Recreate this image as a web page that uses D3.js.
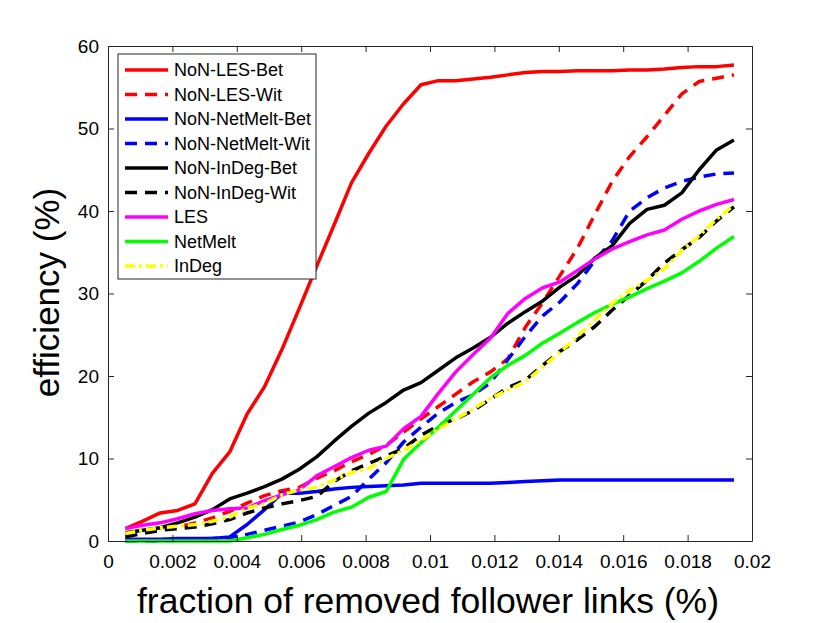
<!DOCTYPE html>
<html>
<head>
<meta charset="utf-8">
<script src="https://cdn.jsdelivr.net/npm/d3@7"></script>
<style>
  body { margin: 0; background: #fff; }
  text { font-family: "Liberation Sans", Arial, sans-serif; fill: #000; }
</style>
</head>
<body>
<svg id="svg"></svg>
<script>
// fraction of removed follower links (x positions of the samples)
var fractions = [0.00054, 0.00108, 0.00162, 0.00216, 0.0027, 0.00324, 0.00378, 0.00432, 0.00486,
  0.0054, 0.00594, 0.00648, 0.00702, 0.00756, 0.0081, 0.00864, 0.00918, 0.00972,
  0.01026, 0.0108, 0.01134, 0.01188, 0.01242, 0.01296, 0.0135, 0.01404, 0.01458,
  0.01512, 0.01566, 0.0162, 0.01674, 0.01728, 0.01782, 0.01836, 0.0189, 0.01944];

var nonLesBet = [1.5, 2.4, 3.4, 3.7, 4.5, 8.2, 10.8, 15.4, 18.7, 23.2, 28.2, 33.3, 38.3, 43.4, 47.0, 50.3, 53.0, 55.3,
  55.8, 55.8, 56.0, 56.2, 56.5, 56.8, 56.9, 56.9, 57.0, 57.0, 57.0, 57.1, 57.1, 57.2, 57.4, 57.5, 57.5, 57.7];
var nonLesWit = [0.6, 1.0, 1.4, 1.7, 2.2, 2.8, 3.6, 4.6, 5.5, 6.1, 6.5, 7.6, 8.5, 9.6, 10.5, 11.6, 13.2, 14.8,
  16.3, 17.8, 19.3, 20.5, 22.1, 25.9, 28.9, 32.2, 35.5, 39.6, 43.6, 46.6, 49.0, 51.6, 54.2, 55.7, 56.1, 56.5];
var nonNetMeltBet = [0.2, 0.2, 0.2, 0.3, 0.3, 0.3, 0.5, 2.0, 3.8, 5.8, 5.8, 6.0, 6.3, 6.5, 6.6, 6.7, 6.8, 7.0,
  7.0, 7.0, 7.0, 7.0, 7.1, 7.2, 7.3, 7.4, 7.4, 7.4, 7.4, 7.4, 7.4, 7.4, 7.4, 7.4, 7.4, 7.4];
var nonNetMeltWit = [0.0, 0.0, 0.0, 0.1, 0.2, 0.3, 0.4, 0.8, 1.3, 1.8, 2.3, 3.2, 4.3, 5.4, 7.5, 9.5, 12.0, 13.8,
  15.5, 16.8, 17.7, 19.2, 22.0, 24.8, 27.3, 29.0, 31.2, 34.0, 36.4, 40.0, 41.6, 42.8, 43.6, 44.1, 44.5, 44.6];
var nonInDegBet = [1.0, 1.3, 1.6, 2.2, 2.9, 3.8, 5.1, 5.8, 6.6, 7.5, 8.7, 10.2, 12.1, 13.9, 15.5, 16.8, 18.3, 19.2,
  20.7, 22.2, 23.4, 24.7, 26.4, 27.8, 29.1, 30.8, 32.2, 34.3, 35.8, 38.5, 40.2, 40.7, 42.2, 45.0, 47.4, 48.6];
var nonInDegWit = [0.5, 0.9, 1.3, 1.5, 1.7, 2.1, 2.6, 3.4, 4.0, 4.5, 4.9, 5.4, 7.2, 8.5, 9.4, 10.3, 11.2, 12.8,
  14.0, 14.8, 15.8, 17.2, 18.6, 19.5, 21.3, 23.0, 24.4, 26.0, 28.0, 29.8, 31.6, 33.7, 35.3, 36.8, 38.8, 40.5];
var les = [1.5, 1.9, 2.2, 2.7, 3.3, 3.7, 3.9, 4.0, 4.9, 5.6, 6.2, 7.9, 9.0, 10.1, 11.0, 11.5, 13.6, 15.1,
  17.9, 20.5, 22.6, 24.6, 27.6, 29.4, 30.7, 31.4, 32.8, 34.2, 35.4, 36.3, 37.1, 37.7, 39.0, 40.0, 40.8, 41.4];
var netMelt = [0, 0, 0, 0, 0, 0, 0, 0.4, 0.8, 1.4, 1.9, 2.6, 3.5, 4.1, 5.3, 6.0, 9.9, 11.9,
  13.8, 15.8, 17.8, 19.8, 21.3, 22.5, 24.0, 25.2, 26.5, 27.7, 28.7, 29.6, 30.6, 31.5, 32.5, 33.9, 35.5, 36.9];
var inDeg = [0.9, 1.3, 1.6, 1.8, 2.0, 2.4, 2.9, 4.0, 4.5, 5.6, 6.2, 6.5, 7.4, 8.3, 8.8, 10.0, 11.0, 12.2,
  13.6, 14.8, 16.0, 17.3, 18.3, 19.3, 21.1, 22.9, 24.8, 26.8, 28.8, 30.4, 31.6, 33.0, 35.2, 37.0, 39.0, 40.7];

var seriesNames = ["NoN-LES-Bet", "NoN-LES-Wit", "NoN-NetMelt-Bet", "NoN-NetMelt-Wit",
  "NoN-InDeg-Bet", "NoN-InDeg-Wit", "LES", "NetMelt", "InDeg"];
var xTicks = [0, 0.002, 0.004, 0.006, 0.008, 0.01, 0.012, 0.014, 0.016, 0.018, 0.02];
var xTickLabels = ["0", "0.002", "0.004", "0.006", "0.008", "0.01", "0.012", "0.014", "0.016", "0.018", "0.02"];
var yTicks = [0, 10, 20, 30, 40, 50, 60];

var series = [
  {name: seriesNames[0], values: nonLesBet, color: "#ff0000", dash: null},
  {name: seriesNames[1], values: nonLesWit, color: "#ff0000", dash: "12,8"},
  {name: seriesNames[2], values: nonNetMeltBet, color: "#0000ff", dash: null},
  {name: seriesNames[3], values: nonNetMeltWit, color: "#0000ff", dash: "12,8"},
  {name: seriesNames[4], values: nonInDegBet, color: "#000000", dash: null},
  {name: seriesNames[5], values: nonInDegWit, color: "#000000", dash: "12,8"},
  {name: seriesNames[6], values: les, color: "#ff00ff", dash: null},
  {name: seriesNames[7], values: netMelt, color: "#00ff00", dash: null},
  {name: seriesNames[8], values: inDeg, color: "#ffff00", dash: "10,4,3,4"}
];

var Marge = {top: 46, right: 78, bottom: 82, left: 108};
var W = 830, H = 623;
var plotW = W - Marge.left - Marge.right, plotH = H - Marge.top - Marge.bottom;
var axisColor = "#262626";

var svg = d3.select("#svg").attr("width", W).attr("height", H);

var x_scale = d3.scaleLinear().domain([0, 0.02]).range([0, plotW]);
var y_scale = d3.scaleLinear().domain([0, 60]).range([plotH, 0]);

var g = svg.append("g").attr("transform", "translate(" + Marge.left + "," + Marge.top + ")");

// lines
var lineFunction = d3.line()
  .x(function(d, i) { return x_scale(fractions[i]); })
  .y(function(d) { return y_scale(d); });

g.selectAll("path.series")
  .data(series)
  .enter().append("path")
  .attr("class", "series")
  .attr("d", function(s) { return lineFunction(s.values); })
  .attr("stroke", function(s) { return s.color; })
  .attr("stroke-dasharray", function(s) { return s.dash; })
  .attr("stroke-width", 3.5)
  .attr("stroke-linejoin", "round")
  .attr("fill", "none");

// axes (box with inward ticks)
var xAxis = d3.axisBottom(x_scale).tickValues(xTicks)
  .tickFormat(function(d, i) { return xTickLabels[i]; })
  .tickSizeInner(-6).tickSizeOuter(0).tickPadding(14);
var yAxis = d3.axisLeft(y_scale).tickValues(yTicks)
  .tickSizeInner(-6).tickSizeOuter(0).tickPadding(9);

var gx = g.append("g").attr("transform", "translate(0," + plotH + ")").call(xAxis);
var gy = g.append("g").call(yAxis);
var gxTop = g.append("g").call(d3.axisTop(x_scale).tickValues(xTicks).tickFormat("").tickSizeInner(-6).tickSizeOuter(0));
var gyRight = g.append("g").attr("transform", "translate(" + plotW + ",0)")
  .call(d3.axisRight(y_scale).tickValues(yTicks).tickFormat("").tickSizeInner(-6).tickSizeOuter(0));

[gx, gy, gxTop, gyRight].forEach(function(a) {
  a.selectAll("path.domain").attr("stroke", axisColor).attr("stroke-width", 1);
  a.selectAll(".tick line").attr("stroke", axisColor);
  a.selectAll(".tick text").attr("font-size", 19).attr("font-family", "Liberation Sans, Arial, sans-serif").attr("fill", "#000");
});

// axis titles
svg.append("text")
  .attr("x", Marge.left + plotW / 2 - 2)
  .attr("y", 613)
  .attr("text-anchor", "middle")
  .attr("font-size", 35.5)
  .text("fraction of removed follower links (%)");

svg.append("text")
  .attr("transform", "translate(59," + (Marge.top + plotH / 2 - 1) + ") rotate(-90)")
  .attr("text-anchor", "middle")
  .attr("font-size", 35)
  .text("efficiency (%)");

// legend
var legend = svg.append("g").attr("transform", "translate(118,54)");
legend.append("rect")
  .attr("width", 198).attr("height", 225)
  .attr("fill", "#fff").attr("stroke", axisColor).attr("stroke-width", 1);

var rows = legend.selectAll("g.row")
  .data(series)
  .enter().append("g")
  .attr("class", "row")
  .attr("transform", function(s, i) { return "translate(0," + (16 + i * 24.5) + ")"; });

rows.append("line")
  .attr("x1", 7).attr("x2", 50)
  .attr("stroke", function(s) { return s.color; })
  .attr("stroke-dasharray", function(s) { return s.dash; })
  .attr("stroke-width", 3.5);

rows.append("text")
  .attr("x", 56).attr("dy", "0.35em")
  .attr("font-size", 18)
  .text(function(s) { return s.name; });
</script>
</body>
</html>
